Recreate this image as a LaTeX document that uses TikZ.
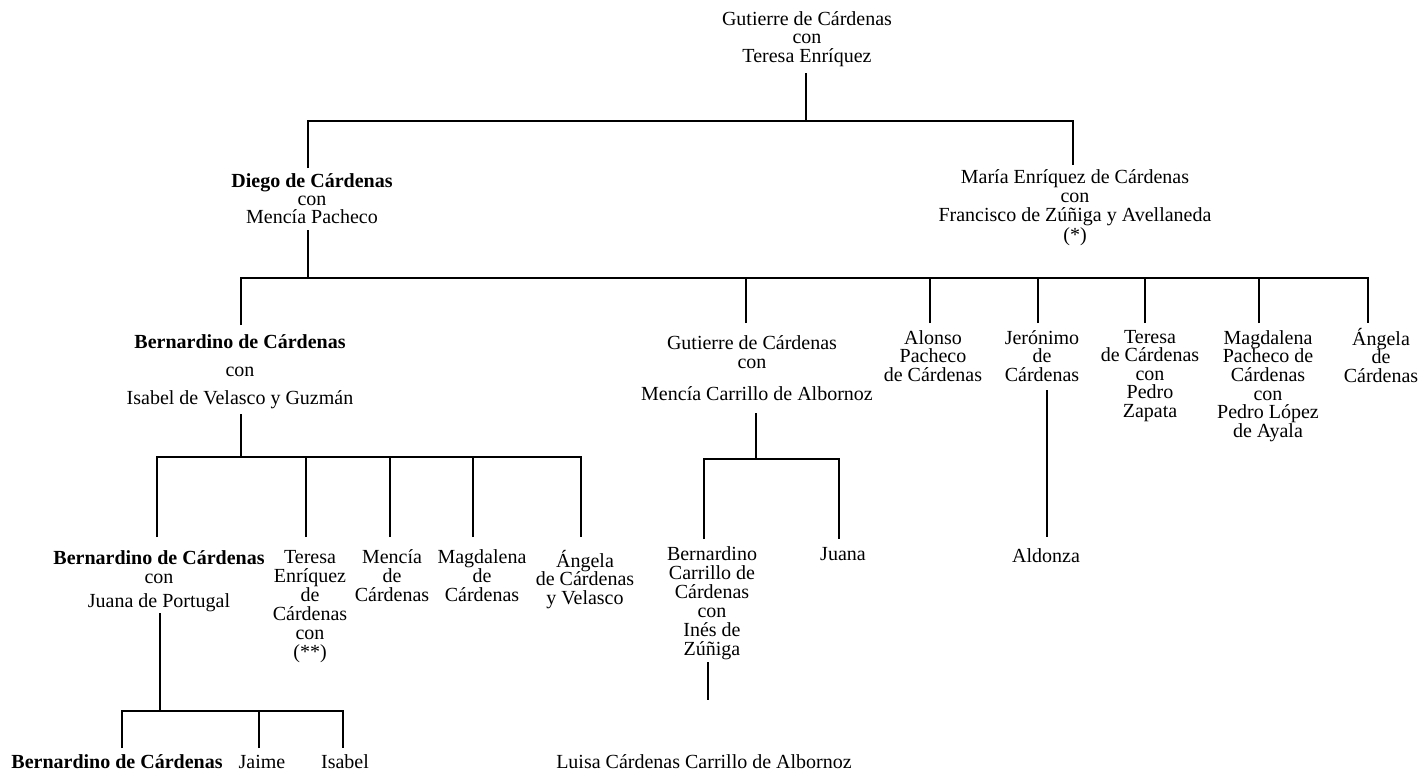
\documentclass[tikz,border=0pt]{standalone}
\usepackage{fontspec}
\setmainfont{Liberation Serif}
\newcommand{\mystrut}{\rule{0pt}{20pt}}
\tikzset{
  lbl/.style={inner sep=0pt, anchor=north, align=center,
    font=\fontsize{20}{#1}\selectfont},
  lbl/.default=18.5,
  conn/.style={line width=1.4pt, line join=miter}
}
\begin{document}
\lineskiplimit=-100pt\relax
\lineskip=0pt\relax
\begin{tikzpicture}[x=1pt,y=-1pt]
\useasboundingbox (0,0) rectangle (1421,772);

% ---------- text nodes ----------
\node[lbl=18.5] (g0) at (807,5) {\mystrut Gutierre de Cárdenas\\con\\Teresa Enríquez};
\node[lbl=18] (d) at (312,167) {\mystrut\textbf{Diego de Cárdenas}\\con\\Mencía Pacheco};
\node[lbl=19.3] (m) at (1075,163) {\mystrut María Enríquez de Cárdenas\\con\\Francisco de Zúñiga y Avellaneda\\(*)};

\node[lbl=28] (b1) at (240,328) {\mystrut\textbf{Bernardino de Cárdenas}\\con\\Isabel de Velasco y Guzmán};
\node[lbl=19] (g1) at (752,329) {\mystrut Gutierre de Cárdenas\\con\\[13pt]\hspace*{10pt}Mencía Carrillo de Albornoz};
\node[lbl=18.5] (al) at (933,324) {\mystrut Alonso\\Pacheco\\de Cárdenas};
\node[lbl=18.5] (je) at (1042,324) {\mystrut Jerónimo\\de\\Cárdenas};
\node[lbl=18.5] (te) at (1150,323) {\mystrut Teresa\\de Cárdenas\\con\\Pedro\\Zapata};
\node[lbl=18.6] (ma) at (1268,324) {\mystrut Magdalena\\Pacheco de\\Cárdenas\\con\\Pedro López\\de Ayala};
\node[lbl=18.5] (an) at (1381,325) {\mystrut Ángela\\de\\Cárdenas};

\node[lbl] (ald) at (1046,542) {\mystrut Aldonza};

\node[lbl=19] (b2) at (159,544) {\mystrut\textbf{Bernardino de Cárdenas}\\con\\[5pt]Juana de Portugal};
\node[lbl=19] (t2) at (310,543) {\mystrut Teresa\\Enríquez\\de\\Cárdenas\\con\\(**)};
\node[lbl=19] (me2) at (392,543) {\mystrut Mencía\\de\\Cárdenas};
\node[lbl=19] (ma2) at (482,543) {\mystrut Magdalena\\de\\Cárdenas};
\node[lbl=18.5] (an2) at (585,547) {\mystrut Ángela\\de Cárdenas\\y Velasco};

\node[lbl=19] (bc) at (712,540) {\mystrut Bernardino\\Carrillo de\\Cárdenas\\con\\Inés de\\Zúñiga};
\node[lbl] (ju) at (843,540) {\mystrut Juana};

\node[lbl] (b3) at (117,748) {\mystrut\textbf{Bernardino de Cárdenas}};
\node[lbl] (ja) at (262,748) {\mystrut Jaime};
\node[lbl] (is) at (345,748) {\mystrut Isabel};
\node[lbl] (lu) at (704,748) {\mystrut Luisa Cárdenas Carrillo de Albornoz};

% ---------- connector points ----------
\coordinate (g0s) at (806,73);
\coordinate (g0bar) at (806,121);
\coordinate (dtop) at (308,168);
\coordinate (mtop) at (1073,165);
\coordinate (barAL) at (308,121);
\coordinate (barAR) at (1073,121);
\draw[conn] (g0s) -- (g0bar);
\draw[conn] (dtop) -- (barAL) -- (barAR) -- (mtop);

\coordinate (ds) at (308,230);
\coordinate (dbar) at (308,278);
\coordinate (c1) at (241,325);
\coordinate (c2) at (746,323);
\coordinate (c3) at (930,323);
\coordinate (c4) at (1038,323);
\coordinate (c5) at (1145,323);
\coordinate (c6) at (1259,323);
\coordinate (c7) at (1368,323);
\coordinate (barBL) at (241,278);
\coordinate (barBR) at (1368,278);
\draw[conn] (ds) -- (dbar);
\draw[conn] (c1) -- (barBL) -- (barBR) -- (c7);
\foreach \c in {c2,c3,c4,c5,c6}{\draw[conn] (\c) -- (\c |- barBL);}

\coordinate (b1s) at (241,414);
\coordinate (b1bar) at (241,457);
\coordinate (k1) at (157,537);
\coordinate (k2) at (306,537);
\coordinate (k3) at (390,537);
\coordinate (k4) at (473,537);
\coordinate (k5) at (581,537);
\coordinate (barCL) at (157,457);
\coordinate (barCR) at (581,457);
\draw[conn] (b1s) -- (b1bar);
\draw[conn] (k1) -- (barCL) -- (barCR) -- (k5);
\foreach \c in {k2,k3,k4}{\draw[conn] (\c) -- (\c |- barCL);}

\coordinate (g1s) at (756,413);
\coordinate (g1bar) at (756,459);
\coordinate (h1) at (704,539);
\coordinate (h2) at (839,539);
\coordinate (barDL) at (704,459);
\coordinate (barDR) at (839,459);
\draw[conn] (g1s) -- (g1bar);
\draw[conn] (h1) -- (barDL) -- (barDR) -- (h2);

\coordinate (jes) at (1047,390);
\coordinate (aldt) at (1047,537);
\draw[conn] (jes) -- (aldt);

\coordinate (b2s) at (160,613);
\coordinate (b2bar) at (160,711);
\coordinate (q1) at (122,748);
\coordinate (q2) at (259,748);
\coordinate (q3) at (343,748);
\coordinate (barEL) at (122,711);
\coordinate (barER) at (343,711);
\draw[conn] (b2s) -- (b2bar);
\draw[conn] (q1) -- (barEL) -- (barER) -- (q3);
\draw[conn] (q2) -- (q2 |- barEL);

\coordinate (bcs) at (708,662);
\coordinate (bce) at (708,700);
\draw[conn] (bcs) -- (bce);
\end{tikzpicture}
\end{document}
